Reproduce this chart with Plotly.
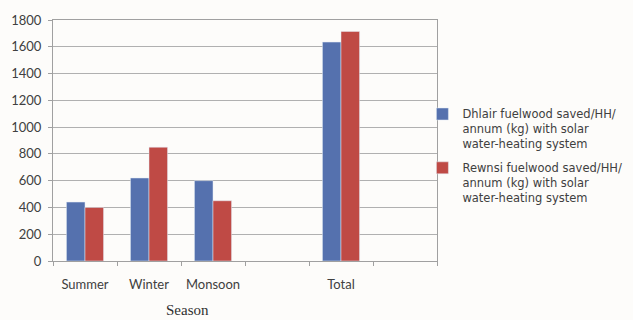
import plotly.graph_objects as go

categories = ["Summer", "Winter", "Monsoon", "", "Total", " "]
dhlair = [440, 620, 600, None, 1635, None]
rewnsi = [400, 850, 450, None, 1715, None]
series_names = [
    "Dhlair fuelwood saved/HH/<br>annum (kg) with solar<br>water-heating system",
    "Rewnsi fuelwood saved/HH/<br>annum (kg) with solar<br>water-heating system",
]
y_ticks = [0, 200, 400, 600, 800, 1000, 1200, 1400, 1600, 1800]

fig = go.Figure()
fig.add_trace(go.Bar(x=categories, y=dhlair, name=series_names[0], marker_color="#5571ae",
                     legendgroup="a"))
fig.add_trace(go.Bar(x=categories, y=rewnsi, name=series_names[1], marker_color="#bf4a45",
                     legendgroup="b"))

fig.update_layout(
    width=633, height=320,
    margin=dict(l=53, r=196, t=20, b=59, autoexpand=False),
    paper_bgcolor="#fdfcfa", plot_bgcolor="#fdfcfa",
    barmode="group", bargap=0.42, bargroupgap=0,
    font=dict(family="Lato", size=13, color="#404040"),
    legend=dict(
        x=0.962, y=0.668, xanchor="left", yanchor="top", valign="top",
        font=dict(family="DejaVu Sans", size=11.5, color="#404040"),
        tracegroupgap=6, bgcolor="rgba(0,0,0,0)",
    ),
    showlegend=True,
)
fig.update_xaxes(
    type="category", categoryorder="array", categoryarray=categories,
    showline=True, linecolor="#a0a0a0", linewidth=1, mirror=True,
    ticks="outside", tickson="boundaries", ticklen=4, tickcolor="#a0a0a0",
    ticklabelstandoff=11, showgrid=False, tickangle=0,
    tickfont=dict(family="Lato", size=13, color="#404040"),
)
fig.update_yaxes(
    range=[0, 1800], tickvals=y_ticks,
    showline=True, linecolor="#a0a0a0", linewidth=1, mirror=True,
    ticks="outside", ticklen=4, tickcolor="#a0a0a0",
    ticklabelstandoff=4,
    showgrid=True, gridcolor="#b0b0b0", gridwidth=1, zeroline=False,
    tickfont=dict(family="Lato", size=13, color="#404040"),
)
fig.add_annotation(
    text="Season", x=0.35, y=-0.162, xref="paper", yref="paper",
    xanchor="center", yanchor="top", showarrow=False,
    font=dict(family="Liberation Serif", size=15, color="#303030"),
)
fig.write_html("out.html")
